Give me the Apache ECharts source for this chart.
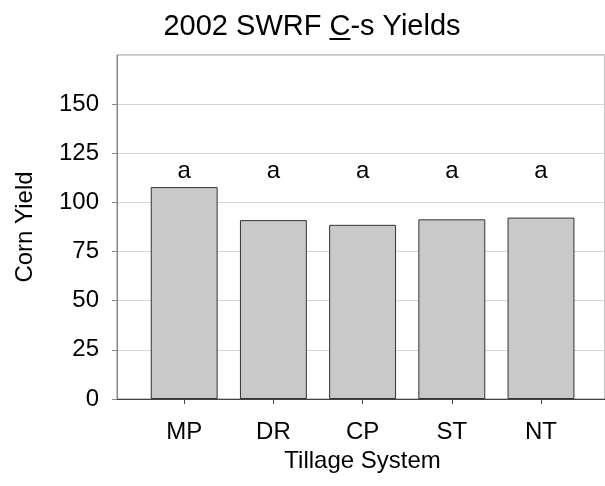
<!DOCTYPE html>
<html>
<head>
<meta charset="utf-8">
<script src="https://cdn.jsdelivr.net/npm/echarts@6/dist/echarts.min.js"></script>
<style>
    html, body { margin: 0; padding: 0; background: #fff; }
    #main { width: 605px; height: 486px; }
</style>
</head>
<body>
<div id="main"></div>
<script>
    // chart data
    var categories = ['MP', 'DR', 'CP', 'ST', 'NT'];
    var yields = [107.8, 91, 88.6, 91.4, 92.3];
    var letters = ['a', 'a', 'a', 'a', 'a'];
    var letterLevel = [116, 116, 116, 116, 116];
    var yTicks = [0, 25, 50, 75, 100, 125, 150, 175];

    var FONT = "'Liberation Sans', Arial, sans-serif";
    var titleText = '2002 SWRF C-s Yields';
    var titleSize = 29;
    var axisSize = 24;

    // measure title so the "C" can get its underline
    var ctx = document.createElement('canvas').getContext('2d');
    ctx.font = titleSize + 'px ' + FONT;
    var titleW = ctx.measureText(titleText).width;
    var titleLeft = 312 - titleW / 2;
    var cLeft = titleLeft + ctx.measureText('2002 SWRF ').width;
    var cW = ctx.measureText('C').width;

    var chart = echarts.init(document.getElementById('main'));
    chart.setOption({
        animation: false,
        title: {
            text: titleText,
            left: titleLeft,
            top: 12,
            padding: 0,
            textStyle: { fontFamily: FONT, fontSize: titleSize, fontWeight: 'normal', color: '#000' }
        },
        graphic: [{
            type: 'rect',
            shape: { x: cLeft, y: 38, width: cW, height: 2 },
            style: { fill: '#000' }
        }],
        grid: [
            { left: 117, top: 55, right: -6, bottom: 87, show: true, borderColor: '#888', borderWidth: 1 },
            { left: 139.6, top: 55, right: 19.4, bottom: 87 }
        ],
        xAxis: [{
            gridIndex: 0,
            type: 'value',
            min: 0,
            max: 1,
            axisLine: { show: true, lineStyle: { color: '#444', width: 1 } },
            axisTick: { show: false },
            axisLabel: { show: false },
            splitLine: { show: false }
        }, {
            gridIndex: 1,
            type: 'category',
            data: categories,
            axisLine: { show: false },
            axisTick: { show: true, alignWithLabel: true, length: 5, lineStyle: { color: '#444' } },
            axisLabel: { margin: 21, fontFamily: FONT, fontSize: axisSize, color: '#000' },
            name: 'Tillage System',
            nameLocation: 'middle',
            nameGap: 48,
            nameTextStyle: { fontFamily: FONT, fontSize: axisSize, color: '#000' }
        }],
        yAxis: [{
            gridIndex: 0,
            type: 'value',
            min: yTicks[0],
            max: yTicks[yTicks.length - 1],
            interval: 25,
            axisLine: { show: true, lineStyle: { color: '#888', width: 1 } },
            axisTick: { show: true, length: 5, lineStyle: { color: '#888' } },
            axisLabel: { margin: 18, showMaxLabel: false, fontFamily: FONT, fontSize: axisSize, color: '#000' },
            splitLine: { show: true, lineStyle: { color: '#d4d4d4', width: 1 } },
            name: 'Corn Yield',
            nameLocation: 'middle',
            nameGap: 80,
            nameTextStyle: { fontFamily: FONT, fontSize: axisSize, color: '#000' }
        }, {
            gridIndex: 1,
            type: 'value',
            min: yTicks[0],
            max: yTicks[yTicks.length - 1],
            show: false
        }],
        series: [{
            name: 'Corn Yield',
            type: 'bar',
            xAxisIndex: 1,
            yAxisIndex: 1,
            barWidth: '75%',
            data: yields,
            itemStyle: { color: '#c9c9c9', borderColor: '#333', borderWidth: 1 }
        }, {
            // significance letters above the bars
            type: 'scatter',
            xAxisIndex: 1,
            yAxisIndex: 1,
            symbolSize: 1,
            silent: true,
            itemStyle: { color: 'rgba(0,0,0,0)', opacity: 1 },
            data: letterLevel,
            label: {
                show: true,
                position: 'inside',
                formatter: function (p) { return letters[p.dataIndex]; },
                fontFamily: FONT,
                fontSize: axisSize,
                color: '#000',
                opacity: 1
            }
        }]
    });
</script>
</body>
</html>
